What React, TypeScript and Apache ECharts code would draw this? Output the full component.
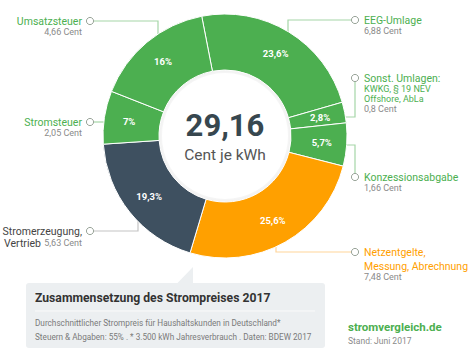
import React, { useEffect, useRef } from "react";
import * as echarts from "echarts";

const categories = [
  "EEG-Umlage",
  "Sonst. Umlagen",
  "Konzessionsabgabe",
  "Netzentgelte, Messung, Abrechnung",
  "Stromerzeugung, Vertrieb",
  "Stromsteuer",
  "Umsatzsteuer",
];
const centValues = [6.88, 0.8, 1.66, 7.48, 5.63, 2.05, 4.66];
const pctLabels = ["23,6%", "2,8%", "5,7%", "25,6%", "19,3%", "7%", "16%"];
const sliceColors = ["#4caf50", "#4caf50", "#4caf50", "#ffa000", "#3e5060", "#4caf50", "#4caf50"];

const FONT = "Roboto, 'Noto Sans', sans-serif";
const GREEN = "#4caf50";
const GRAY = "#8a8a8a";

const fmtCent = (v: number) => v.toFixed(2).replace(/0$/, "").replace(/\.$/, "").replace(".", ",") + " Cent";

// outer label layout: lines = [text, fontSize, dy]
type Lbl = { cx: number; cy: number; pts: number[][]; tx: number; align: string; lines: [string, number, number][]; valDy: number; color: string; lineColor: string };
const outer: Record<string, Lbl> = {
  "EEG-Umlage": { cx: 355, cy: 20, pts: [[351, 20], [288, 20], [288, 40]], tx: 364, align: "left", lines: [["EEG-Umlage", 10.5, 0]], valDy: 11, color: GREEN, lineColor: "#a5d6a7" },
  "Sonst. Umlagen": { cx: 355, cy: 78, pts: [[355, 82], [355, 117], [335, 117]], tx: 364, align: "left", lines: [["Sonst. Umlagen:", 10.5, 0], ["KWKG, § 19 NEV", 9, 11], ["Offshore, AbLa", 9, 21]], valDy: 31, color: GREEN, lineColor: "#a5d6a7" },
  Konzessionsabgabe: { cx: 355, cy: 177, pts: [[355, 173], [355, 145], [335, 145]], tx: 364, align: "left", lines: [["Konzessionsabgabe", 10.5, 0]], valDy: 11, color: GREEN, lineColor: "#a5d6a7" },
  "Netzentgelte, Messung, Abrechnung": { cx: 355, cy: 252, pts: [[351, 252], [276, 252], [276, 225]], tx: 364, align: "left", lines: [["Netzentgelte,", 10.5, 0], ["Messung, Abrechnung", 10.5, 14]], valDy: 25, color: "#ffa000", lineColor: "#ffd59a" },
  "Stromerzeugung, Vertrieb": { cx: 90, cy: 231, pts: [[94, 231], [138, 231], [138, 205]], tx: 82, align: "right", lines: [["Stromerzeugung,", 10.5, 0]], valDy: 12, color: "#444", lineColor: "#c4c4c4" },
  Stromsteuer: { cx: 90, cy: 122, pts: [[94, 122], [115, 122]], tx: 82, align: "right", lines: [["Stromsteuer", 10.5, 0]], valDy: 11, color: GREEN, lineColor: "#a5d6a7" },
  Umsatzsteuer: { cx: 90, cy: 21, pts: [[94, 21], [158, 21], [158, 45]], tx: 82, align: "right", lines: [["Umsatzsteuer", 10.5, 0]], valDy: 11, color: GREEN, lineColor: "#a5d6a7" },
};

export default function App() {
  const ref = useRef<HTMLDivElement>(null);
  useEffect(() => {
    if (!ref.current) return;
    const chart = echarts.init(ref.current, undefined, { renderer: "svg" });
    const total = centValues.reduce((a, b) => a + b, 0);
    const g: any[] = [];
    // inner white disk
    g.push({ type: "circle", shape: { cx: 225, cy: 136, r: 66 }, style: { fill: "#eeeeee" }, z: 1 });
    g.push({ type: "circle", shape: { cx: 225, cy: 136, r: 63 }, style: { fill: "#fff", shadowBlur: 6, shadowColor: "rgba(255,255,255,1)" }, z: 1 });
    g.push({ type: "text", x: 225, y: 125, style: { text: total.toFixed(2).replace(".", ","), fill: "#37474f", font: `bold 31px ${FONT}`, align: "center", verticalAlign: "middle" }, z: 5 });
    g.push({ type: "text", x: 225, y: 155, style: { text: "Cent je kWh", fill: "#555", font: `15.5px ${FONT}`, align: "center", verticalAlign: "middle" }, z: 5 });

    categories.forEach((name, i) => {
      const l = outer[name];
      g.push({ type: "polyline", shape: { points: l.pts }, style: { stroke: l.lineColor, lineWidth: 1.2, fill: null }, z: 0 });
      g.push({ type: "circle", shape: { cx: l.cx, cy: l.cy, r: 3.6 }, style: { fill: "#fff", stroke: "#9aa59a", lineWidth: 1 }, z: 0 });
      l.lines.forEach(([t, fs, dy]) => {
        g.push({ type: "text", x: l.tx, y: l.cy + dy, style: { text: t, fill: l.color, font: `${fs}px ${FONT}`, align: l.align, verticalAlign: "middle" }, z: 5 });
      });
      if (name === "Stromerzeugung, Vertrieb") {
        g.push({
          type: "text", x: l.tx, y: l.cy + l.valDy,
          style: {
            text: `{n|Vertrieb} {v|${fmtCent(centValues[i])}}`, align: "right", verticalAlign: "middle",
            rich: { n: { fill: "#444", font: `10.5px ${FONT}` }, v: { fill: GRAY, font: `9px ${FONT}` } },
          }, z: 5,
        });
      } else {
        g.push({ type: "text", x: l.tx, y: l.cy + l.valDy, style: { text: fmtCent(centValues[i]), fill: GRAY, font: `9px ${FONT}`, align: l.align, verticalAlign: "middle" }, z: 5 });
      }
    });

    // info box
    g.push({ type: "rect", shape: { x: 26, y: 283, width: 299, height: 65, r: 3 }, style: { fill: "#eceff1" }, z: 0 });
    g.push({ type: "polygon", shape: { points: [[177, 283.5], [193, 267], [193, 283.5]] }, style: { fill: "#eceff1" }, z: 0 });
    g.push({ type: "text", x: 35, y: 298, style: { text: "Zusammensetzung des Strompreises 2017", fill: "#333", font: `bold 12.2px ${FONT}`, align: "left", verticalAlign: "middle" }, z: 5 });
    g.push({ type: "line", shape: { x1: 35, y1: 311, x2: 315, y2: 311 }, style: { stroke: "#fafafa", lineWidth: 1 }, z: 1 });
    g.push({ type: "text", x: 35, y: 323, style: { text: "Durchschnittlicher Strompreis für Haushaltskunden in Deutschland*", fill: "#7a7a7a", font: `8.2px ${FONT}`, align: "left", verticalAlign: "middle" }, z: 5 });
    g.push({ type: "text", x: 35, y: 337, style: { text: "Steuern & Abgaben: 55% . * 3.500 kWh Jahresverbrauch . Daten: BDEW 2017", fill: "#7a7a7a", font: `8.2px ${FONT}`, align: "left", verticalAlign: "middle" }, z: 5 });
    // logo
    g.push({ type: "text", x: 348, y: 327, style: { text: "stromvergleich.de", fill: GREEN, font: `bold 11.5px ${FONT}`, align: "left", verticalAlign: "middle" }, z: 5 });
    g.push({ type: "text", x: 348, y: 341, style: { text: "Stand: Juni 2017", fill: GRAY, font: `8.5px ${FONT}`, align: "left", verticalAlign: "middle" }, z: 5 });

    chart.setOption({
      animation: false,
      backgroundColor: "#fff",
      graphic: { elements: g },
      series: [
        {
          type: "pie",
          center: [225, 136],
          radius: [66, 122],
          startAngle: 101,
          clockwise: true,
          silent: true,
          z: 3,
          itemStyle: { borderColor: "#fff", borderWidth: 1 },
          label: {
            show: true,
            position: "inside",
            color: "#fff",
            fontWeight: "bold",
            fontSize: 9.5,
            fontFamily: FONT,
            formatter: (p: any) => pctLabels[p.dataIndex],
          },
          labelLine: { show: false },
          data: categories.map((name, i) => ({ name, value: centValues[i], itemStyle: { color: sliceColors[i] } })),
        },
      ],
    });
    return () => chart.dispose();
  }, []);
  return <div ref={ref} style={{ position: "fixed", left: 0, top: 0, width: 474, height: 363 }} />;
}
